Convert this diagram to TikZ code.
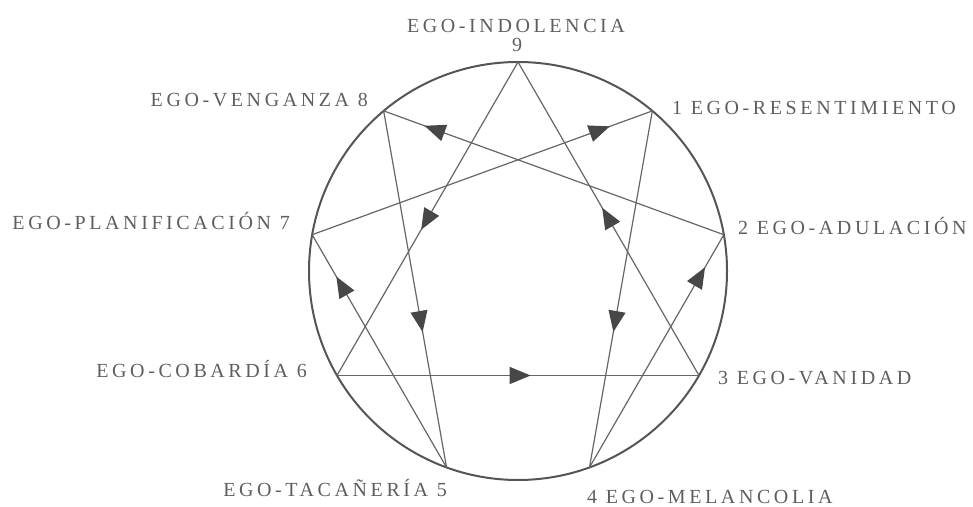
\documentclass[tikz,border=0pt]{standalone}
\usepackage{fontspec}
\setmainfont{Liberation Serif}
\newfontfamily\labfont[LetterSpace=18]{Liberation Serif}
\usetikzlibrary{arrows.meta,decorations.markings}
\definecolor{txt}{HTML}{5E5E5E}
\definecolor{ln}{HTML}{666666}
\definecolor{rim}{HTML}{555555}
\definecolor{tipc}{HTML}{474747}
\begin{document}
\begin{tikzpicture}[x=1pt,y=1pt,
  lab/.style={font=\labfont\fontsize{20}{20}\selectfont, text=txt, inner sep=0pt},
  edge/.style={draw=ln, line width=1.2pt},
  arr/.style={postaction={decorate}, decoration={markings,
     mark=at position #1 with {\arrow[tipc]{Triangle[length=21pt,width=17pt]}}}}
]
\useasboundingbox (0,0) rectangle (973,506);
\coordinate (c) at (518,235);
\draw[rim, line width=2pt] (c) circle (209);
\foreach \n/\a in {9/90,1/50,2/10,3/-30,4/-70,5/-110,6/-150,7/170,8/130}
  \coordinate (p\n) at ([shift={(\a:209)}]c);
% triangle
\draw[edge, arr=0.535] (p9) -- (p6);
\draw[edge, arr=0.535] (p3) -- (p9);
\draw[edge, arr=0.535] (p6) -- (p3);
% hexad
\draw[edge, arr=0.88] (p2) -- (p8);
\draw[edge, arr=0.875] (p7) -- (p1);
\draw[edge, arr=0.62] (p8) -- (p5);
\draw[edge, arr=0.62] (p1) -- (p4);
\draw[edge, arr=0.82] (p5) -- (p7);
\draw[edge, arr=0.86] (p4) -- (p2);
% labels
\node[lab, anchor=base] (l9) at (516,473) {EGO-INDOLENCIA};
\node[lab, anchor=base] (n9) at (517,454) {9};
\node[lab, anchor=base east] (l8) at (368,399) {EGO-VENGANZA 8};
\node[lab, anchor=base west] (l1) at (672,391) {1 EGO-RESENTIMIENTO};
\node[lab, anchor=base east] (l7) at (290,276) {EGO-PLANIFICACIÓN 7};
\node[lab, anchor=base west] (l2) at (738,271) {2 EGO-ADULACIÓN};
\node[lab, anchor=base east] (l6) at (307,129) {EGO-COBARDÍA 6};
\node[lab, anchor=base west] (l3) at (718,122) {3 EGO-VANIDAD};
\node[lab, anchor=base east] (l5) at (447,10) {EGO-TACAÑERÍA 5};
\node[lab, anchor=base west] (l4) at (587,3) {4 EGO-MELANCOLIA};
\end{tikzpicture}
\end{document}
